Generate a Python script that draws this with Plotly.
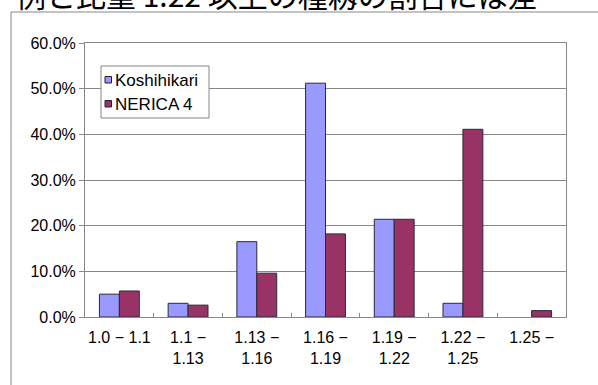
import plotly.graph_objects as go

categories = ["1.0 − 1.1", "1.1 −<br>1.13", "1.13 −<br>1.16", "1.16 −<br>1.19",
              "1.19 −<br>1.22", "1.22 −<br>1.25", "1.25 −"]
koshihikari = [0.050, 0.030, 0.165, 0.512, 0.214, 0.030, 0.0]
nerica4 = [0.057, 0.026, 0.096, 0.182, 0.214, 0.411, 0.014]
y_ticks = [0, 0.1, 0.2, 0.3, 0.4, 0.5, 0.6]
series_names = ["Koshihikari", "NERICA 4"]
series_colors = ["#9999FF", "#993366"]
caption = "例と比重 1.22 以上の種籾の割合には差"

FONT = "Liberation Sans, Arial, sans-serif"
NARROW = "Liberation Sans Narrow, Liberation Sans, Arial, sans-serif"

fig = go.Figure()
for name, vals, col in zip(series_names, [koshihikari, nerica4], series_colors):
    fig.add_trace(go.Bar(
        x=categories, y=vals, name=name, showlegend=False,
        marker=dict(color=col,
                    line=dict(color="#2a2a3a", width=[1 if v > 0 else 0 for v in vals]))))

W, H = 598, 385
L, R, T, B = 85, 32, 43, 68
pw, ph = W - L - R, H - T - B

def px(x):
    return (x - L) / pw

def py(y):
    return (H - B - y) / ph

fig.update_layout(
    width=W, height=H,
    margin=dict(l=L, r=R, t=T, b=B),
    paper_bgcolor="white", plot_bgcolor="white",
    barmode="group", bargap=0.42, bargroupgap=0,
    font=dict(family=FONT, size=12, color="black"),
    showlegend=False,
    xaxis=dict(showline=True, linecolor="#888888", linewidth=1, mirror=True,
               ticks="inside", ticklen=4, tickcolor="#888888", tickson="boundaries",
               tickfont=dict(size=16, family=FONT), ticklabelstandoff=6,
               tickangle=0, automargin=False, showgrid=False),
    yaxis=dict(range=[0, 0.6], tickvals=y_ticks, tickformat=".1%",
               showline=True, linecolor="#888888", linewidth=1, mirror=True,
               showgrid=True, gridcolor="#888888", gridwidth=1,
               ticks="outside", ticklen=5, tickcolor="#888888", automargin=False,
               tickfont=dict(size=16, family=NARROW), zeroline=False),
)

# outer frame (partial, cut off by the page)
fig.add_shape(type="line", xref="paper", yref="paper",
              x0=px(11), x1=px(11), y0=py(12), y1=py(H + 5),
              line=dict(color="#888888", width=1))
fig.add_shape(type="line", xref="paper", yref="paper",
              x0=px(11), x1=px(W + 5), y0=py(12), y1=py(12),
              line=dict(color="#888888", width=1))

# legend drawn by hand
fig.add_shape(type="rect", xref="paper", yref="paper", layer="above",
              x0=px(101), x1=px(209), y0=py(66), y1=py(118),
              fillcolor="white", line=dict(color="#888888", width=1))
for i, (name, col) in enumerate(zip(series_names, series_colors)):
    cy = 80 + 24 * i
    fig.add_shape(type="rect", xref="paper", yref="paper", layer="above",
                  x0=px(105), x1=px(111.5), y0=py(cy - 3.5), y1=py(cy + 3),
                  fillcolor=col, line=dict(color="#222222", width=1))
    fig.add_annotation(text=name, xref="paper", yref="paper",
                       x=px(113), y=py(cy), xanchor="left", yanchor="middle",
                       showarrow=False, font=dict(family=FONT, size=17, color="black"))

fig.add_annotation(text=caption, xref="paper", yref="paper",
                   x=px(14), y=py(-6), xanchor="left", yanchor="middle",
                   showarrow=False,
                   font=dict(family="Noto Sans CJK JP", size=30, color="black"))

fig.write_html("out.html")
